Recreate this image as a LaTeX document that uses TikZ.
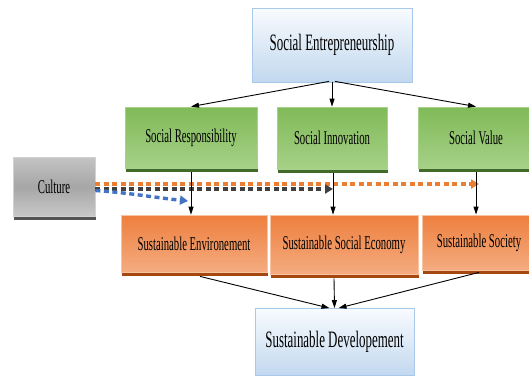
\documentclass[tikz,border=0pt]{standalone}
\usepackage{fontspec}
\setmainfont{Liberation Serif}[FakeStretch=0.55]
\usetikzlibrary{arrows.meta,shadows,calc}
\definecolor{bTop}{HTML}{F8FBFE}
\definecolor{bBot}{HTML}{C2D8EF}
\definecolor{bLine}{HTML}{A9C9EA}
\definecolor{gTop}{HTML}{80BA57}
\definecolor{gBot}{HTML}{A6D188}
\definecolor{gLine}{HTML}{A9D18E}
\definecolor{gShad}{HTML}{426B2A}
\definecolor{oTop}{HTML}{EE7F3E}
\definecolor{oBot}{HTML}{F4AC80}
\definecolor{oLine}{HTML}{F8C3A0}
\definecolor{oShad}{HTML}{A4480F}
\definecolor{cTop}{HTML}{C4C4C4}
\definecolor{cMid}{HTML}{A6A6A6}
\definecolor{cBot}{HTML}{C8C8C8}
\definecolor{cLine}{HTML}{D2D2D2}
\definecolor{cShad}{HTML}{555555}
\definecolor{dOrange}{HTML}{ED7D31}
\definecolor{dGray}{HTML}{404040}
\definecolor{dBlue}{HTML}{4472C4}
\begin{document}
\begin{tikzpicture}[x=1pt,y=-1pt,
  box/.style={rectangle, inner sep=0pt, line width=0.8pt, align=center,
    font=\fontsize{19.5}{21}\selectfont},
  bluebox/.style={box, draw=bLine, top color=bTop, bottom color=bBot,
    font=\fontsize{23.5}{25}\selectfont},
  greenbox/.style={box, draw=gLine, top color=gTop, bottom color=gBot,
    drop shadow={shadow xshift=0.5pt, shadow yshift=-4pt, fill=gShad, opacity=1}},
  orangebox/.style={box, draw=oLine, top color=oTop, bottom color=oBot,
    drop shadow={shadow xshift=0.5pt, shadow yshift=-4pt, fill=oShad, opacity=1}},
  graybox/.style={box, draw=cLine, top color=cTop, bottom color=cBot, middle color=cMid,
    drop shadow={shadow xshift=0.5pt, shadow yshift=-4pt, fill=cShad, opacity=1}},
  arr/.style={-{Triangle[length=8pt,width=5pt]}, line width=0.9pt, black},
  dashln/.style={line width=3.4pt, dash pattern=on 5pt off 3.5pt,
    -{Triangle[length=8pt,width=9pt]}}
]
\useasboundingbox (0,0) rectangle (529,376);

% nodes
\node[bluebox, minimum width=160pt, minimum height=74pt] (se) at (332,45) {Social Entrepreneurship};
\node[greenbox, minimum width=132pt, minimum height=61pt] (sr) at (191,137.5) {Social Responsibility};
\node[greenbox, minimum width=110pt, minimum height=62pt] (si) at (332,138) {Social Innovation};
\node[greenbox, minimum width=116pt, minimum height=61pt] (sv) at (476,137.5) {Social Value};
\node[graybox, minimum width=82pt, minimum height=59pt] (cu) at (54,186.5) {Culture};
\node[orangebox, minimum width=146pt, minimum height=57pt] (senv) at (194,243.5) {Sustainable Environement};
\node[orangebox, minimum width=148pt, minimum height=59pt] (sse) at (344,244.5) {Sustainable Social Economy};
\node[orangebox, minimum width=114pt, minimum height=55pt] (ssoc) at (479,242.5) {Sustainable Society};
\node[bluebox, minimum width=159pt, minimum height=67pt] (sd) at (334.5,342) {Sustainable Developement};

% dashed connectors from Culture
\coordinate (oEnd) at (479,184);
\coordinate (gEnd) at (333,189);
\coordinate (bEnd) at (188,201);
\draw[dashln, dOrange] (cu.east |- oEnd) -- (oEnd);
\draw[dashln, dGray] (cu.east |- gEnd) -- (gEnd);
\draw[dashln, dBlue] ($(cu.east)+(0,4)$) to[out=-4, in=174] (bEnd);

% black connectors
\draw[arr] ($(se.south)+(-3,-1)$) -- (sr.north);
\draw[arr] (se.south) -- (si.north);
\draw[arr] ($(se.south)+(3,-1)$) -- (sv.north);
\draw[arr] ($(sr.south)+(0,4)$) -- (sr.south |- senv.north);
\draw[arr] ($(si.south)+(1,4)$) -- ($(si.south |- sse.north)+(1,0)$);
\draw[arr] ($(sv.south)+(0,4)$) -- (sv.south |- ssoc.north);
\draw[arr] ($(senv.south)+(6,4)$) -- ($(sd.north)+(-5,0)$);
\draw[arr] ($(sse.south)+(-10,4)$) -- ($(sd.north)+(0,0)$);
\draw[arr] ($(ssoc.south)+(0,2)$) -- ($(sd.north)+(4,0)$);
\end{tikzpicture}
\end{document}
